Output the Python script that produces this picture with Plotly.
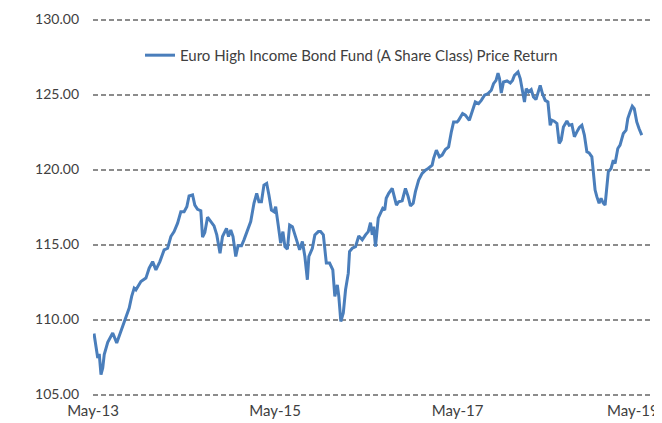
import plotly.graph_objects as go

series_name = "Euro High Income Bond Fund (A Share Class) Price Return"

dates = [
    "2013-05-05", "2013-05-20", "2013-05-26", "2013-06-02", "2013-06-09", "2013-06-15", "2013-06-29",
    "2013-07-19", "2013-08-04", "2013-08-21", "2013-09-10", "2013-09-23", "2013-10-03", "2013-10-13",
    "2013-10-20", "2013-11-09", "2013-11-29", "2013-12-12", "2013-12-26", "2014-01-08", "2014-01-24",
    "2014-02-10", "2014-02-24", "2014-03-09", "2014-03-22", "2014-04-05", "2014-04-18", "2014-05-01",
    "2014-05-12", "2014-05-21", "2014-06-04", "2014-06-13", "2014-06-24", "2014-07-07", "2014-07-14",
    "2014-07-23", "2014-08-03", "2014-08-16", "2014-08-29", "2014-09-09", "2014-09-22", "2014-10-02",
    "2014-10-18", "2014-10-26", "2014-11-04", "2014-11-13", "2014-11-24", "2014-12-03", "2014-12-17",
    "2014-12-27", "2015-01-10", "2015-01-23", "2015-02-05", "2015-02-16", "2015-02-25", "2015-03-07",
    "2015-03-17", "2015-03-28", "2015-04-06", "2015-04-16", "2015-04-26", "2015-05-03", "2015-05-14",
    "2015-05-23", "2015-06-01", "2015-06-09", "2015-06-19", "2015-06-28", "2015-07-09", "2015-07-19",
    "2015-07-29", "2015-08-07", "2015-08-18", "2015-08-28", "2015-09-07", "2015-09-13", "2015-09-27",
    "2015-10-07", "2015-10-21", "2015-10-30", "2015-11-10", "2015-11-22", "2015-12-05", "2015-12-18",
    "2015-12-26", "2016-01-05", "2016-01-11", "2016-01-19", "2016-01-29", "2016-02-07", "2016-02-18",
    "2016-02-23", "2016-03-05", "2016-03-18", "2016-03-31", "2016-04-14", "2016-04-27", "2016-05-08",
    "2016-05-17", "2016-05-24", "2016-05-30", "2016-06-06", "2016-06-17", "2016-06-26", "2016-07-05",
    "2016-07-13", "2016-07-19", "2016-07-29", "2016-08-12", "2016-08-22", "2016-08-29", "2016-09-07",
    "2016-09-21", "2016-10-04", "2016-10-15", "2016-10-24", "2016-11-04", "2016-11-13", "2016-11-26",
    "2016-12-10", "2016-12-23", "2017-01-03", "2017-01-12", "2017-01-19", "2017-01-25", "2017-02-05",
    "2017-02-17", "2017-02-28", "2017-03-13", "2017-03-26", "2017-04-06", "2017-04-15", "2017-04-29",
    "2017-05-05", "2017-05-21", "2017-06-01", "2017-06-17", "2017-06-28", "2017-07-11", "2017-07-24",
    "2017-08-04", "2017-08-17", "2017-08-31", "2017-09-13", "2017-09-22", "2017-10-02", "2017-10-10",
    "2017-10-16", "2017-10-23", "2017-11-01", "2017-11-15", "2017-11-28", "2017-12-07", "2017-12-15",
    "2017-12-29", "2018-01-07", "2018-01-14", "2018-01-24", "2018-01-31", "2018-02-09", "2018-02-20",
    "2018-03-01", "2018-03-11", "2018-03-21", "2018-03-28", "2018-04-06", "2018-04-17", "2018-04-28",
    "2018-05-07", "2018-05-14", "2018-05-23", "2018-06-03", "2018-06-12", "2018-06-20", "2018-06-29",
    "2018-07-13", "2018-07-22", "2018-08-02", "2018-08-12", "2018-08-22", "2018-09-01", "2018-09-11",
    "2018-09-21", "2018-10-01", "2018-10-10", "2018-10-21", "2018-10-27", "2018-11-03", "2018-11-10",
    "2018-11-19", "2018-11-27", "2018-12-06", "2018-12-13", "2018-12-20", "2018-12-26", "2019-01-06",
    "2019-01-15", "2019-01-22", "2019-02-02", "2019-02-11", "2019-02-24", "2019-03-07", "2019-03-14",
    "2019-03-23", "2019-04-01", "2019-04-09", "2019-04-19", "2019-04-28", "2019-05-09",
]

prices = [
    109.06, 107.44, 107.70, 106.33, 106.77, 107.66, 108.48,
    109.10, 108.44, 109.21, 110.03, 110.76, 111.54, 112.09,
    111.98, 112.53, 112.76, 113.42, 113.86, 113.31, 113.86,
    114.64, 114.75, 115.53, 115.86, 116.42, 117.19, 117.19,
    117.52, 118.23, 118.30, 117.63, 117.35, 117.25, 115.49,
    115.80, 116.82, 116.53, 116.24, 115.64, 114.42, 115.53,
    116.08, 115.53, 115.97, 115.53, 114.20, 114.91, 114.91,
    115.31, 115.97, 116.53, 117.75, 118.41, 117.85, 117.85,
    118.96, 119.07, 118.30, 117.30, 117.19, 117.52, 116.19,
    115.09, 115.86, 114.86, 114.69, 116.30, 116.19, 115.64,
    115.09, 114.64, 115.20, 114.20, 112.65, 114.20, 114.75,
    115.64, 115.86, 115.86, 115.64, 113.76, 113.76, 113.31,
    111.54, 112.31, 111.54, 109.87, 110.43, 111.98, 113.09,
    114.53, 114.75, 114.86, 115.57, 115.31, 115.64, 115.86,
    116.46, 115.64, 116.19, 114.86, 116.75, 117.08, 117.41,
    117.30, 118.08, 118.41, 118.74, 118.08, 117.63, 117.85,
    117.92, 118.74, 118.19, 117.57, 117.75, 118.52, 119.30,
    119.74, 119.96, 120.07, 120.18, 120.29, 120.74, 121.29,
    120.84, 120.96, 121.33, 121.51, 122.51, 123.17, 123.17,
    123.28, 123.73, 123.62, 123.28, 123.84, 124.50, 124.39,
    124.61, 124.95, 125.06, 125.28, 125.72, 125.94, 126.43,
    126.06, 125.10, 125.83, 125.90, 125.77, 125.94, 126.28,
    126.50, 126.06, 125.28, 124.50, 125.39, 125.17, 125.33,
    124.84, 124.66, 125.28, 125.61, 125.06, 124.61, 124.50,
    122.95, 123.28, 123.22, 123.07, 121.74, 121.96, 122.84,
    123.24, 122.95, 123.00, 122.18, 122.51, 122.80, 122.95,
    122.29, 121.18, 121.11, 120.84, 119.96, 118.63, 118.19,
    117.75, 118.08, 117.75, 117.63, 118.85, 119.85, 120.07,
    120.62, 120.40, 121.40, 121.62, 122.40, 122.62, 123.40,
    123.84, 124.22, 124.06, 123.17, 122.73, 122.29,
]

# axis ticks; the last label sits at the right edge, so it is drawn as an
# annotation anchored to its date and nudged inward like the original
x_tick_dates = ["2013-05-01", "2015-05-01", "2017-05-01"]
x_tick_labels = ["May-13", "May-15", "May-17"]
x_last_tick_date = "2019-05-01"
x_last_tick_label = "May-19"
y_tick_values = [105, 110, 115, 120, 125, 130]

font_family = "Lato, 'Open Sans', sans-serif"
text_color = "#404040"
grid_color = "#8c8c8c"

fig = go.Figure()
fig.add_trace(go.Scatter(
    x=dates, y=prices, mode="lines", name=series_name,
    line=dict(color="#4a7ebb", width=3),
))

fig.add_annotation(
    x=x_last_tick_date, y=0, xref="x", yref="paper",
    text=x_last_tick_label, showarrow=False,
    xanchor="center", yanchor="middle", xshift=-7, yshift=-13.5,
    font=dict(family=font_family, size=15, color=text_color),
)

# the page body adds an 8px margin, so the figure is sized to fit the window
fig.update_layout(
    width=654, height=415,
    margin=dict(l=85, r=12, t=9.5, b=26.5, autoexpand=False),
    paper_bgcolor="white", plot_bgcolor="white",
    font=dict(family=font_family, size=14, color=text_color),
    showlegend=True,
    legend=dict(
        x=0.0844, y=0.901, xanchor="left", yanchor="middle",
        orientation="h", bgcolor="rgba(0,0,0,0)",
        font=dict(family=font_family, size=15, color=text_color),
    ),
    xaxis=dict(
        type="date",
        range=["2013-05-01", "2019-06-11"],
        tickvals=x_tick_dates, ticktext=x_tick_labels,
        showgrid=False, zeroline=False, showline=False,
        ticks="", automargin=False, ticklabeloverflow="allow",
        ticklabelstandoff=4,
        tickfont=dict(size=15, color=text_color),
    ),
    yaxis=dict(
        range=[104.9, 130.1],
        tickvals=y_tick_values, tickformat=".2f",
        showgrid=True, gridcolor=grid_color, gridwidth=1.5,
        griddash="5px,3px",
        zeroline=False, showline=False, ticks="",
        automargin=False, ticklabelstandoff=13,
        tickfont=dict(size=14, color=text_color),
    ),
)

fig.write_html("out.html")
